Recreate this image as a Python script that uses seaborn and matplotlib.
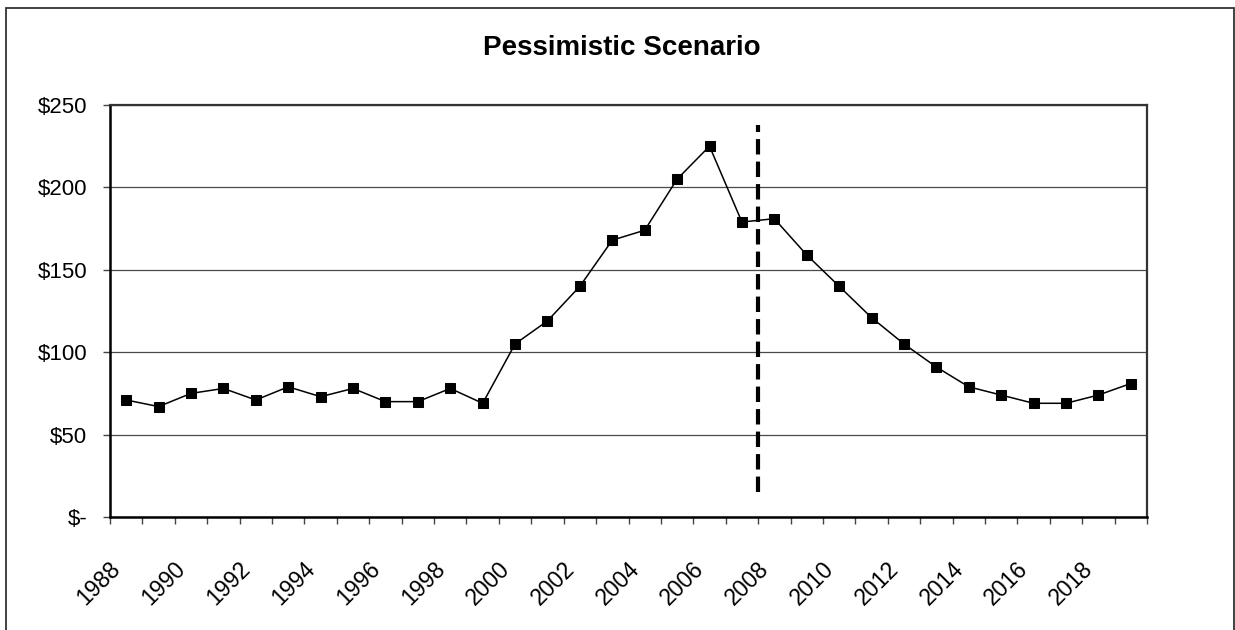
import numpy as np
import pandas as pd
import matplotlib
matplotlib.use("Agg")
import matplotlib.pyplot as plt
import matplotlib.transforms as mtransforms
import seaborn as sns
from matplotlib.patches import Rectangle

# Price path under the pessimistic scenario, one value per year
years = list(range(1988, 2020))
prices = [71, 67, 75, 78, 71, 79, 73, 78, 70, 70,
          78, 69, 105, 119, 140, 168, 174, 205, 225, 179,
          181, 159, 140, 121, 105, 91, 79, 74, 69, 69,
          74, 81]
y_ticks = [0, 50, 100, 150, 200, 250]
label_years = list(range(1988, 2019, 2))
forecast_start = 2007.5

df = pd.DataFrame({"year": years, "price": prices})

sns.set_theme(style="white")
plt.rcParams["font.family"] = ["Liberation Sans", "DejaVu Sans"]
plt.rcParams["text.color"] = "black"
plt.rcParams["xtick.labelcolor"] = "black"
plt.rcParams["ytick.labelcolor"] = "black"

fig = plt.figure(figsize=(12.35, 6.30), dpi=100)
ax = fig.add_axes([110 / 1235, 1 - 517 / 630, 1037 / 1235, 412 / 630])

sns.lineplot(data=df, x="year", y="price", ax=ax, color="black",
             linewidth=1.1, marker="s", markersize=7.5, markeredgecolor="black",
             markerfacecolor="black", zorder=3)

# Boundary between history and projection
ax.vlines(forecast_start, 15, 238, colors="black", linewidth=3,
          linestyles=(0, (3.7, 1.7)), zorder=4)

ax.set_xlim(1987.5, 2019.5)
ax.set_ylim(0, 250)

# Y axis in accounting-style dollars
ax.set_yticks(y_ticks)
ax.set_yticklabels(["$-" if v == 0 else f"${v}" for v in y_ticks])
ax.yaxis.grid(True, color="#4a4a4a", linewidth=0.9)
ax.xaxis.grid(False)

# Category axis: ticks between years, labels on every other year
ax.set_xticks(np.arange(1987.5, 2020, 1.0))
ax.set_xticklabels([])
ax.set_xticks(label_years, minor=True)
ax.set_xticklabels([str(y) for y in label_years], minor=True,
                   rotation=45, ha="right", va="center",
                   rotation_mode="anchor")
ax.tick_params(axis="x", which="major", direction="out", length=5,
               width=1.0, color="#444444", bottom=True)
ax.tick_params(axis="x", which="minor", length=0, pad=35, labelsize=16.5)
ax.tick_params(axis="y", direction="out", length=5, width=1.0,
               color="#444444", left=True, pad=11.5, labelsize=16)

# Nudge the slanted year labels so they sit under their categories
shift = mtransforms.ScaledTranslation(-9 / 100, 0, fig.dpi_scale_trans)
for lbl in ax.xaxis.get_minorticklabels():
    lbl.set_transform(lbl.get_transform() + shift)

ax.set_xlabel("")
ax.set_ylabel("")

for side in ["left", "bottom"]:
    ax.spines[side].set_color("black")
    ax.spines[side].set_linewidth(1.8)
for side in ["top", "right"]:
    ax.spines[side].set_color("#333333")
    ax.spines[side].set_linewidth(1.6)

fig.text(622 / 1235, 1 - 48 / 630, "Pessimistic Scenario",
         ha="center", va="center", fontsize=20, fontweight="bold")

# Chart-area frame
frame = Rectangle((5.5 / 1235, -0.05), (1234 - 5.5) / 1235, 1.05 - 7.5 / 630,
                  transform=fig.transFigure, fill=False,
                  edgecolor="#333333", linewidth=1.3, clip_on=False)
fig.patches.append(frame)

fig.savefig("out.png", dpi=100, facecolor="white")
